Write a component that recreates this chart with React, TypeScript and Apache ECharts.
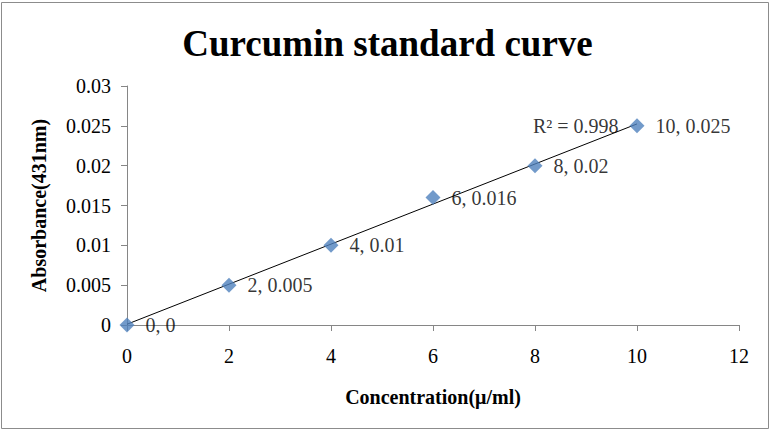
import React, { useEffect, useRef } from "react";
import * as echarts from "echarts";

const concentrations = [0, 2, 4, 6, 8, 10];
const absorbances = [0, 0.005, 0.01, 0.016, 0.02, 0.025];
const rSquaredText = "R\u00B2 = 0.998";
const titleText = "Curcumin standard curve";
const xAxisTitle = "Concentration(\u03BC/ml)";
const yAxisTitle = "Absorbance(431nm)";

// least-squares trendline derived from the data
function fitLine(xs: number[], ys: number[]) {
  const n = xs.length;
  const mx = xs.reduce((a, b) => a + b, 0) / n;
  const my = ys.reduce((a, b) => a + b, 0) / n;
  let sxy = 0;
  let sxx = 0;
  for (let i = 0; i < n; i++) {
    sxy += (xs[i] - mx) * (ys[i] - my);
    sxx += (xs[i] - mx) * (xs[i] - mx);
  }
  const slope = sxy / sxx;
  const intercept = my - slope * mx;
  return { slope, intercept };
}

export default function App() {
  const ref = useRef<HTMLDivElement>(null);
  useEffect(() => {
    document.body.style.margin = "0";
    if (!ref.current) return;
    const chart = echarts.init(ref.current, undefined, { renderer: "svg" });
    const { slope, intercept } = fitLine(concentrations, absorbances);
    const xMinData = Math.min(...concentrations);
    const xMaxData = Math.max(...concentrations);
    const trend = [
      [xMinData, slope * xMinData + intercept],
      [xMaxData, slope * xMaxData + intercept],
    ];
    const points = concentrations.map((x, i) => [x, absorbances[i]]);
    const last = points[points.length - 1];
    const font = "'Liberation Serif', 'Times New Roman', serif";
    chart.setOption({
      animation: false,
      backgroundColor: "#ffffff",
      title: {
        text: titleText,
        left: "center",
        top: 20,
        textStyle: {
          fontFamily: font,
          fontWeight: "bold",
          fontSize: 37,
          color: "#000",
        },
      },
      graphic: [
        {
          type: "rect",
          shape: { x: 1.5, y: 2.5, width: 767, height: 426 },
          style: { fill: "none", stroke: "#8c8c8c", lineWidth: 1 },
          silent: true,
        },
      ],
      grid: { left: 127, right: 36, top: 86, bottom: 109 },
      xAxis: {
        type: "value",
        min: 0,
        max: 12,
        interval: 2,
        name: xAxisTitle,
        nameLocation: "middle",
        nameGap: 62,
        nameTextStyle: {
          fontFamily: font,
          fontWeight: "bold",
          fontSize: 20,
          color: "#000",
        },
        axisLine: { show: true, lineStyle: { color: "#868686", width: 1 } },
        axisTick: { show: true, length: 6, lineStyle: { color: "#868686" } },
        splitLine: { show: false },
        axisLabel: {
          fontFamily: font,
          fontSize: 20,
          color: "#000",
          margin: 21,
        },
      },
      yAxis: {
        type: "value",
        min: 0,
        max: 0.03,
        interval: 0.005,
        name: yAxisTitle,
        nameLocation: "middle",
        nameGap: 78,
        nameTextStyle: {
          fontFamily: font,
          fontWeight: "bold",
          fontSize: 20,
          color: "#000",
        },
        axisLine: { show: true, lineStyle: { color: "#868686", width: 1 } },
        axisTick: { show: true, length: 6, lineStyle: { color: "#868686" } },
        splitLine: { show: false },
        axisLabel: {
          fontFamily: font,
          fontSize: 20,
          color: "#000",
          margin: 16,
        },
      },
      series: [
        {
          type: "line",
          data: trend,
          symbol: "none",
          lineStyle: { color: "#000", width: 1 },
          z: 1,
          silent: true,
        },
        {
          type: "scatter",
          data: points,
          symbol: "diamond",
          symbolSize: 15,
          itemStyle: { color: "#4F81BD" },
          z: 3,
          label: {
            show: true,
            position: "right",
            distance: 11,
            fontFamily: font,
            fontSize: 20,
            color: "#000",
            formatter: (p: any) => `${p.value[0]}, ${p.value[1]}`,
          },
        },
        {
          type: "scatter",
          data: [last],
          symbol: "rect",
          symbolSize: 15,
          itemStyle: { color: "rgba(0,0,0,0)" },
          z: 2,
          silent: true,
          label: {
            show: true,
            position: "left",
            distance: 11,
            fontFamily: font,
            fontSize: 20,
            color: "#000",
            formatter: rSquaredText,
          },
        },
      ],
    });
    return () => chart.dispose();
  }, []);
  return <div ref={ref} style={{ width: 775, height: 434 }} />;
}
